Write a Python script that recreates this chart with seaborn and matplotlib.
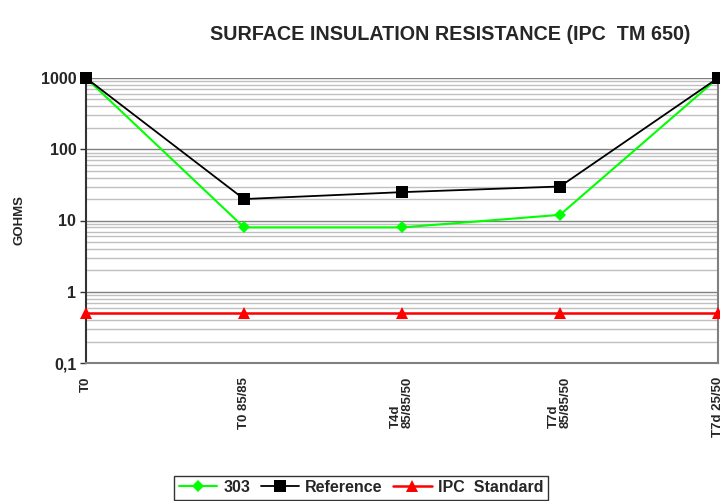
import numpy as np
import pandas as pd
import seaborn as sns
import matplotlib.pyplot as plt
from matplotlib.ticker import FixedLocator, LogLocator, NullFormatter

# data
stages = ["T0", "T0 85/85", "T4d\n85/85/50", "T7d\n85/85/50", "T7d 25/50"]
s303 = [1000, 8, 8, 12, 1000]
reference = [1000, 20, 25, 30, 1000]
ipc_standard = [0.5, 0.5, 0.5, 0.5, 0.5]
yticks = [0.1, 1, 10, 100, 1000]
ytick_labels = ["0,1", "1", "10", "100", "1000"]

df = pd.DataFrame({
    "pos": list(range(len(stages))) * 3,
    "value": s303 + reference + ipc_standard,
    "series": ["303"] * 5 + ["Reference"] * 5 + ["IPC  Standard"] * 5,
})

sns.set_style("white")
plt.rcParams["font.family"] = ["Liberation Sans", "DejaVu Sans"]
plt.rcParams["font.weight"] = "bold"

fig = plt.figure(figsize=(7.2, 5.01), dpi=100)
ax = fig.add_axes([86 / 720, 1 - 363 / 501, (718 - 86) / 720, (363 - 78) / 501])

styles = {
    "303": dict(color="#00ff00", marker="D", markersize=6.5, linewidth=1.5),
    "Reference": dict(color="black", marker="s", markersize=8.5, linewidth=1.3),
    "IPC  Standard": dict(color="red", marker="^", markersize=8.5, linewidth=1.8),
}
for name, st in styles.items():
    sub = df[df["series"] == name]
    sns.lineplot(data=sub, x="pos", y="value", ax=ax, label=name,
                 markeredgewidth=0, clip_on=False, zorder=3, **st)

ax.set_yscale("log")
ax.set_ylim(0.1, 1000)
ax.set_xlim(0, len(stages) - 1)
ax.yaxis.set_major_locator(FixedLocator(yticks))
ax.set_yticklabels(ytick_labels)
ax.yaxis.set_minor_locator(LogLocator(base=10, subs=np.arange(2, 10)))
ax.yaxis.set_minor_formatter(NullFormatter())
ax.grid(which="major", axis="y", color="#808080", linewidth=1)
ax.grid(which="minor", axis="y", color="#c0c0c0", linewidth=1)
ax.set_axisbelow(True)

ax.set_xticks(range(len(stages)))
ax.set_xticklabels(stages, rotation=90, va="top", ha="center",
                   multialignment="left", fontsize=9.5, fontweight="bold",
                   linespacing=1.0)
ax.tick_params(axis="x", length=0, pad=10)
ax.tick_params(axis="y", which="major", length=4, direction="out", left=True,
               labelsize=11.5, width=1, color="#333333", pad=3)
ax.tick_params(axis="y", which="minor", length=0)
for lab in ax.get_yticklabels():
    lab.set_fontweight("bold")

ax.spines["top"].set_visible(False)
ax.spines["left"].set_color("#333333")
ax.spines["bottom"].set_color("#808080")
ax.spines["right"].set_color("#808080")
for s in ax.spines.values():
    s.set_linewidth(1.5)

ax.set_xlabel("")
ax.set_ylabel("GOHMS", fontsize=9.5, fontweight="bold")
ax.yaxis.set_label_coords((26 - 86) / 632, 0.5)

fig.text(450 / 720, 1 - 34 / 501, "SURFACE INSULATION RESISTANCE (IPC  TM 650)",
         ha="center", va="center", fontsize=14.2, fontweight="bold")

handles, labels = ax.get_legend_handles_labels()
ax.get_legend().remove()
leg = fig.legend(handles, labels, loc="lower center", bbox_to_anchor=(361 / 720, -0.013),
                 ncol=3, frameon=True, fancybox=False, edgecolor="black",
                 handlelength=2.4, columnspacing=0.65, handletextpad=0.4,
                 borderpad=0.28, prop={"weight": "bold", "size": 11.5})
leg.get_frame().set_linewidth(1)

fig.savefig("out.png", dpi=100)
